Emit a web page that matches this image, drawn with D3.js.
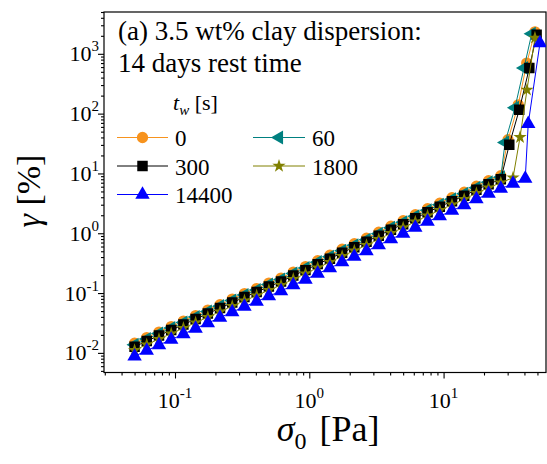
<!DOCTYPE html>
<html><head><meta charset="utf-8">
<script src="https://cdn.jsdelivr.net/npm/d3@7"></script>
<style>
body{margin:0;background:#fff}
svg{display:block}
</style>
</head><body>
<svg id="c" width="547" height="464" font-family="Liberation Serif" fill="#000"></svg>
<script>
// ---- data (stress in Pa, strain in %) ----
const stress = [0.05,0.0616,0.076,0.0937,0.1155,0.1424,0.1756,0.2164,0.2668,0.329,0.4056,
  0.5,0.616,0.76,0.937,1.155,1.424,1.756,2.164,2.668,3.29,4.056,
  5.0,6.16,7.6,9.37,11.55,14.24,17.56,21.64,26.68,32.9,40.56,50.0];

const seriesNames = ["0","60","300","1800","14400"];
const seriesColors = ["#F7931E","#008080","#000000","#808000","#0000FF"];

const strain0 = [0.01449,0.01804,0.02229,0.02755,0.03404,0.04207,0.0519,0.0641,0.0793,0.098,0.1189,
  0.1468,0.1779,0.2241,0.2769,0.3488,0.4307,0.5425,0.670,0.828,1.044,1.314,
  1.624,2.045,2.576,3.183,3.933,4.858,6.121,7.561,9.17];
const tail0Stress = [30.2,36.0,41.6,47.9];
const tail0Strain = [36.6,140.6,699,2330];

const strain60 = [0.01368,0.01702,0.02104,0.026,0.03212,0.03969,0.049,0.0605,0.0748,0.0924,0.1122,
  0.1385,0.1679,0.2115,0.2613,0.3291,0.4064,0.512,0.6325,0.781,0.985,1.240,
  1.533,1.929,2.430,3.003,3.711,4.584,5.776,7.134,8.65];
const tail60Stress = [28.7,34.0,39.7,45.3];
const tail60Strain = [33.0,125.3,577,2158];

const strain300 = [0.01267,0.01576,0.01948,0.02408,0.02974,0.03676,0.0454,0.0561,0.0693,0.0856,0.1039,
  0.1283,0.1555,0.1958,0.2419,0.3048,0.3764,0.474,0.586,0.723,0.912,1.148,
  1.419,1.787,2.251,2.781,3.437,4.245,5.349,6.607,8.01];
const tail300Stress = [30.85,36.6,43.5,49.3];
const tail300Strain = [30.2,116,577,2075];

const strain1800 = [0.01107,0.01377,0.01702,0.02104,0.02599,0.03212,0.03966,0.049,0.0606,0.0748,0.0908,
  0.1121,0.1358,0.1711,0.2114,0.2663,0.3289,0.4142,0.5118,0.632,0.797,1.003,
  1.240,1.561,1.967,2.430,3.003,3.709,4.673,5.773,7.00,8.49];
const tail1800Stress = [37.1,41.8,47.9];
const tail1800Strain = [40.3,250,1849];

const strain14400 = [0.00879,0.01094,0.01352,0.01671,0.02064,0.02551,0.0315,0.0389,0.0481,0.0594,0.0721,
  0.089,0.1079,0.1359,0.1679,0.2115,0.2612,0.329,0.4065,0.502,0.633,0.797,
  0.985,1.240,1.562,1.930,2.385,2.946,3.712,4.585,5.56,6.74,8.17];
const tail14400Stress = [42.7,52.2];
const tail14400Strain = [67.7,1508];

const xMajor = [0.1,1,10];
const xMajorExp = ["-1","0","1"];
const yMajor = [0.01,0.1,1,10,100,1000];
const yMajorExp = ["-2","-1","0","1","2","3"];

// ---- build series ----
function build(strain, tS, tG){
  const pts = strain.map((g,i)=>({x:stress[i], y:g}));
  tS.forEach((s,i)=>pts.push({x:s, y:tG[i]}));
  return pts;
}
const seriesData = [
  build(strain0, tail0Stress, tail0Strain),
  build(strain60, tail60Stress, tail60Strain),
  build(strain300, tail300Stress, tail300Strain),
  build(strain1800, tail1800Stress, tail1800Strain),
  build(strain14400, tail14400Stress, tail14400Strain)
];

// ---- layout ----
const L=104, R=546, T=12, B=372.5;
const FONT = "Liberation Serif";
const svg = d3.select("#c");
const x = d3.scaleLog().domain([0.0296,57.9]).range([L,R]);
const y = d3.scaleLog().domain([0.0047,5000]).range([B,T]);

// symbols
const triLeft = {draw(ctx,size){ const yy=-Math.sqrt(size/(Math.sqrt(3)*3));
  ctx.moveTo(2*yy,0); ctx.lineTo(-yy,-Math.sqrt(3)*yy); ctx.lineTo(-yy,Math.sqrt(3)*yy); ctx.closePath(); }};
const symbols = [
  d3.symbol().type(d3.symbolCircle).size(100),
  d3.symbol().type(triLeft).size(85),
  d3.symbol().type(d3.symbolSquare).size(110),
  d3.symbol().type(d3.symbolStar).size(55),
  d3.symbol().type(d3.symbolTriangle).size(90)
];

function txt(sel, size){ return sel.append("text").attr("font-family",FONT).attr("font-size",size).attr("fill","#000"); }

// axes
const xMinor = x.ticks().filter(v=>!xMajor.some(m=>Math.abs(m-v)/m<1e-6));
const yMinor = y.ticks().filter(v=>!yMajor.some(m=>Math.abs(m-v)/m<1e-6));

function styleAxis(g){ g.select(".domain").remove(); g.selectAll("line").attr("stroke","#000").attr("stroke-width",1.1); }
svg.append("g").attr("transform",`translate(0,${B})`)
  .call(d3.axisBottom(x).tickValues(xMinor).tickSize(3).tickFormat("")).call(styleAxis);
svg.append("g").attr("transform",`translate(0,${B})`)
  .call(d3.axisBottom(x).tickValues(xMajor).tickSize(6).tickFormat("")).call(styleAxis);
svg.append("g").attr("transform",`translate(${L},0)`)
  .call(d3.axisLeft(y).tickValues(yMinor).tickSize(3).tickFormat("")).call(styleAxis);
svg.append("g").attr("transform",`translate(${L},0)`)
  .call(d3.axisLeft(y).tickValues(yMajor).tickSize(6).tickFormat("")).call(styleAxis);

svg.append("rect").attr("x",L).attr("y",T).attr("width",R-L).attr("height",B-T)
  .attr("fill","none").attr("stroke","#000").attr("stroke-width",1.2);

// tick labels
xMajor.forEach((v,i)=>{
  const t = txt(svg,22).attr("x",x(v)).attr("y",408).attr("text-anchor","middle");
  t.append("tspan").text("10");
  t.append("tspan").attr("dy",-10).attr("font-size",15).text(xMajorExp[i]);
});
yMajor.forEach((v,i)=>{
  const t = txt(svg,22).attr("x",99).attr("y",y(v)+7.5).attr("text-anchor","end");
  t.append("tspan").text("10");
  t.append("tspan").attr("dy",-10).attr("font-size",15).text(yMajorExp[i]);
});

// axis titles
const xt = txt(svg,36).attr("x",328).attr("y",441).attr("text-anchor","middle");
xt.append("tspan").attr("font-style","italic").text("σ");
xt.append("tspan").attr("dy",8).attr("font-size",24).text("0");
xt.append("tspan").attr("dy",-8).attr("dx",4).text(" [Pa]");

const yt = txt(svg,34).attr("transform","translate(40,191) rotate(-90)").attr("text-anchor","middle");
yt.append("tspan").attr("font-style","italic").text("γ");
yt.append("tspan").text(" [%]");

// series
svg.append("clipPath").attr("id","pc").append("rect").attr("x",L).attr("y",T).attr("width",R-L).attr("height",B-T);
const plot = svg.append("g").attr("clip-path","url(#pc)");
const line = d3.line().x(d=>x(d.x)).y(d=>y(d.y));
seriesData.forEach((pts,k)=>{
  const g = plot.append("g");
  g.append("path").datum(pts).attr("d",line).attr("fill","none").attr("stroke",seriesColors[k]).attr("stroke-width",1);
  g.selectAll("path.m").data(pts).join("path").attr("class","m")
    .attr("transform",d=>`translate(${x(d.x)},${y(d.y)})`)
    .attr("d",symbols[k]()).attr("fill",seriesColors[k]);
});

// title text
txt(svg,27).attr("x",118).attr("y",40).text("(a) 3.5 wt% clay dispersion:");
txt(svg,27).attr("x",118).attr("y",72).text("14 days rest time");

// legend
const lt = txt(svg,22).attr("x",173).attr("y",110);
lt.append("tspan").attr("font-style","italic").text("t");
lt.append("tspan").attr("dy",5).attr("font-size",15).attr("font-style","italic").text("w");
lt.append("tspan").attr("dy",-5).text(" [s]");

const legPos = [[0,137.5],[1,137.5],[0,166],[1,166],[0,194.5]];
const colX = [[117,168,175],[253,305,312]];
seriesNames.forEach((n,k)=>{
  const [c,yy] = legPos[k];
  const [x1,x2,tx] = colX[c];
  svg.append("line").attr("x1",x1).attr("x2",x2).attr("y1",yy).attr("y2",yy).attr("stroke",seriesColors[k]).attr("stroke-width",1);
  svg.append("path").attr("transform",`translate(${(x1+x2)/2},${yy})`).attr("d",symbols[k]()).attr("fill",seriesColors[k]);
  txt(svg,23).attr("x",tx).attr("y",yy+8.5).text(n);
});
</script>
</body></html>
